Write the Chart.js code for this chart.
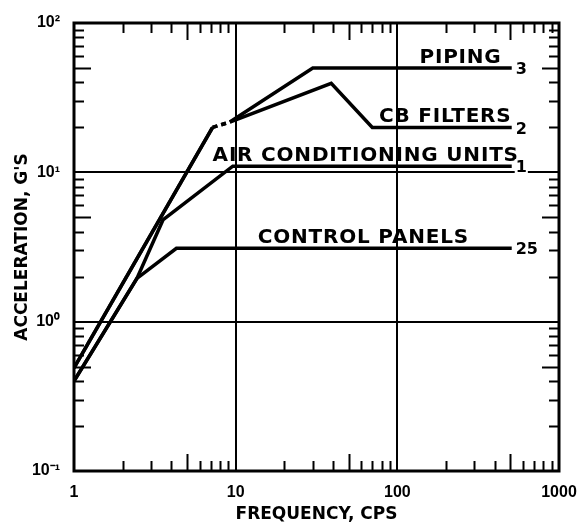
<!DOCTYPE html>
<html>
<head>
<meta charset="utf-8">
<script src="https://cdn.jsdelivr.net/npm/chart.js@4"></script>
<style>
  html, body { margin: 0; padding: 0; background: #fff; }
  #chart { display: block; }
</style>
</head>
<body>
<canvas id="chart" width="580" height="525"></canvas>
<script>
// axis ticks
var freqTicks = [1, 10, 100, 1000];
var freqTickLabels = ['1', '10', '100', '1000'];
var accelTicks = [0.1, 1, 10, 100];
var accelTickLabels = ['10\u207B\u00B9', '10\u2070', '10\u00B9', '10\u00B2'];

// curves (frequency in cps, acceleration in g)
var pipingFreq  = [1, 7.2, 9.2, 30, 510];
var pipingAccel = [0.49, 20, 21.7, 50, 50];
var filtersFreq  = [1, 7.2, 9.2, 39, 70, 510];
var filtersAccel = [0.49, 20, 21.7, 39.5, 20, 20];
var acFreq  = [1, 2.45, 3.55, 9.6, 510];
var acAccel = [0.40, 1.95, 4.8, 11, 11];
var panelsFreq  = [1, 2.45, 4.3, 510];
var panelsAccel = [0.40, 1.95, 3.1, 3.1];

// curve labels
var curveNames   = ['PIPING', 'CB FILTERS', 'AIR CONDITIONING UNITS', 'CONTROL PANELS'];
var curveNumbers = ['3', '2', '1', '25'];
var nameFreq     = [137, 77, 7.2, 13.7];

function points(xs, ys){
	var pts = [];
	for(var i=0; i<xs.length; i++){
		pts.push({x: xs[i], y: ys[i]});
	}
	return pts;
}

// dashed piece between 7.2 and 9.2 cps
function gapDash(ctx){
	return (ctx.p0.parsed.x == 7.2) ? [5, 4] : undefined;
}

function make_dataset(xs, ys){
	var ds = {};
	ds.data = points(xs, ys);
	ds.showLine = true;
	ds.borderColor = '#000';
	ds.borderWidth = 3.5;
	ds.pointRadius = 0;
	ds.fill = false;
	ds.segment = {borderDash: gapDash};
	return ds;
}

var seriesList = [
	[pipingFreq, pipingAccel],
	[filtersFreq, filtersAccel],
	[acFreq, acAccel],
	[panelsFreq, panelsAccel]
];

var frameAndText = {
	id: 'frameAndText',
	afterDatasetsDraw: function(chart){
		var ctx = chart.ctx;
		var a = chart.chartArea;
		var xs = chart.scales.x;
		var ys = chart.scales.y;
		ctx.save();
		ctx.strokeStyle = '#000';
		ctx.fillStyle = '#000';

		// minor ticks on all four sides, pointing inward
		ctx.lineWidth = 2;
		ctx.beginPath();
		var m, d, p, len;
		for(d=1; d<1000; d*=10){
			for(m=2; m<=9; m++){
				p = Math.round(xs.getPixelForValue(d*m)) + 0.5;
				len = (m == 5) ? 17 : 10;
				ctx.moveTo(p, a.bottom); ctx.lineTo(p, a.bottom - len);
				ctx.moveTo(p, a.top); ctx.lineTo(p, a.top + len);
			}
		}
		for(d=0.1; d<99; d*=10){
			for(m=2; m<=9; m++){
				p = Math.round(ys.getPixelForValue(d*m)) + 0.5;
				len = (m == 5) ? 17 : 10;
				ctx.moveTo(a.left, p); ctx.lineTo(a.left + len, p);
				ctx.moveTo(a.right, p); ctx.lineTo(a.right - len, p);
			}
		}
		ctx.stroke();

		// frame
		ctx.lineWidth = 3;
		ctx.strokeRect(a.left, a.top, a.right - a.left, a.bottom - a.top);

		// curve names and numbers
		for(var i=0; i<seriesList.length; i++){
			var fx = seriesList[i][0];
			var fy = seriesList[i][1];
			var yv = fy[fy.length - 1];
			var py = ys.getPixelForValue(yv);

			ctx.font = 'bold 20px "DejaVu Sans"';
			ctx.letterSpacing = '0.8px';
			ctx.textAlign = 'left';
			ctx.textBaseline = 'alphabetic';
			ctx.fillText(curveNames[i], xs.getPixelForValue(nameFreq[i]), py - 5);
			ctx.letterSpacing = '0px';

			ctx.font = 'bold 16px "DejaVu Sans"';
			ctx.textBaseline = 'middle';
			var nx = xs.getPixelForValue(fx[fx.length - 1]) + 4;
			var w = ctx.measureText(curveNumbers[i]).width;
			ctx.fillStyle = '#fff';
			ctx.fillRect(nx - 1, py - 7, w + 2, 16);
			ctx.fillStyle = '#000';
			ctx.fillText(curveNumbers[i], nx, py + 2);
		}
		ctx.restore();
	}
};

var tickFont = {family: 'Liberation Sans', weight: 'bold', size: 16};
var titleFont = {family: 'DejaVu Sans', weight: 'bold', size: 17};

var opts = {
	responsive: false,
	animation: false,
	devicePixelRatio: 1,
	layout: {padding: {top: 23, right: 21, left: 0, bottom: 0}},
	plugins: {legend: {display: false}, tooltip: {enabled: false}},
	scales: {
		x: {
			type: 'logarithmic',
			min: 1, max: 1000,
			afterBuildTicks: function(s){ s.ticks = freqTicks.map(function(v){ return {value: v}; }); },
			afterFit: function(s){ s.height = 54; s.paddingLeft = 0; s.paddingRight = 0; },
			ticks: {
				callback: function(v, i){ return freqTickLabels[i]; },
				font: tickFont, color: '#000', padding: 12,
				maxRotation: 0, autoSkip: false
			},
			grid: {color: '#000', lineWidth: 2, drawTicks: false},
			border: {display: false},
			title: {display: true, text: 'FREQUENCY, CPS', font: titleFont, color: '#000', padding: {top: 2, bottom: 0}}
		},
		y: {
			type: 'logarithmic',
			min: 0.1, max: 100,
			afterBuildTicks: function(s){ s.ticks = accelTicks.map(function(v){ return {value: v}; }); },
			afterFit: function(s){ s.width = 74; s.paddingTop = 0; s.paddingBottom = 0; },
			ticks: {
				callback: function(v, i){ return accelTickLabels[i]; },
				font: tickFont, color: '#000', padding: 14,
				autoSkip: false
			},
			grid: {color: '#000', lineWidth: 2, drawTicks: false},
			border: {display: false},
			title: {display: true, text: "ACCELERATION, G'S", font: titleFont, color: '#000', padding: {top: 12, bottom: 0}}
		}
	}
};

var data = {};
data.datasets = [];
for(var i=0; i<seriesList.length; i++){
	data.datasets.push(make_dataset(seriesList[i][0], seriesList[i][1]));
}

var params = {};
params.type = 'scatter';
params.data = data;
params.options = opts;
params.plugins = [frameAndText];
var chart = new Chart(document.getElementById('chart').getContext('2d'), params);
</script>
</body>
</html>
